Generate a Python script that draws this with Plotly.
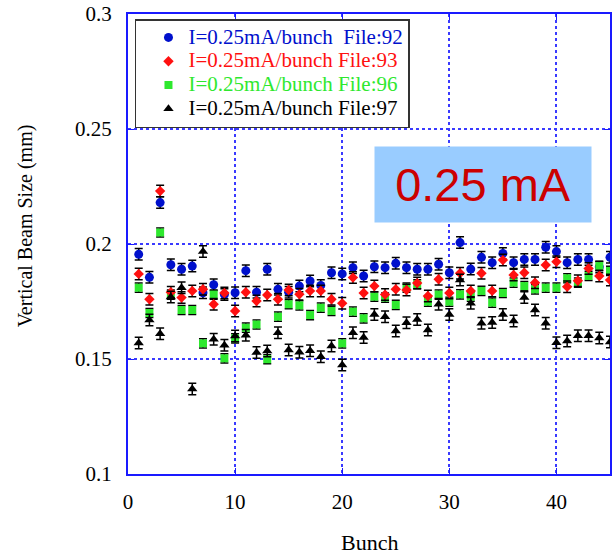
import plotly.graph_objects as go

bunch = list(range(1, 46))

size_92 = [0.1955, 0.1855, 0.218, 0.191, 0.189, 0.1904, 0.1788, 0.1823, 0.178, 0.1788,
           0.1884, 0.179, 0.189, 0.1803, 0.179, 0.1817, 0.1839, 0.182, 0.1875, 0.187,
           0.1897, 0.1861, 0.1901, 0.1897, 0.1916, 0.1897, 0.189, 0.189, 0.1912, 0.1875,
           0.2006, 0.1891, 0.1942, 0.1919, 0.1959, 0.1919, 0.1933, 0.1933, 0.1986, 0.1967,
           0.1919, 0.1933, 0.1933, 0.190, 0.1942]
size_93 = [0.187, 0.176, 0.223, 0.179, 0.1767, 0.1796, 0.1803, 0.1738, 0.1787, 0.1709,
           0.179, 0.1752, 0.1778, 0.176, 0.18, 0.1781, 0.1796, 0.1796, 0.176, 0.1742,
           0.1854, 0.1787, 0.1817, 0.178, 0.1803, 0.180, 0.183, 0.1774, 0.1847, 0.1787,
           0.1873, 0.1796, 0.1873, 0.1796, 0.193, 0.1865, 0.1875, 0.1832, 0.1909, 0.1923,
           0.1814, 0.184, 0.1894, 0.1861, 0.1843]
size_96 = [0.181, 0.170, 0.205, 0.178, 0.1713, 0.1713, 0.1568, 0.178, 0.1503, 0.159,
           0.1636, 0.165, 0.1499, 0.1684, 0.1738, 0.1733, 0.1691, 0.1723, 0.1709, 0.1568,
           0.1706, 0.1677, 0.1771, 0.1767, 0.1735, 0.181, 0.1825, 0.1749, 0.178, 0.1749,
           0.1781, 0.1771, 0.1796, 0.1745, 0.1787, 0.1832, 0.1817, 0.1803, 0.181, 0.181,
           0.1851, 0.1832, 0.1861, 0.1904, 0.1883]
size_97 = [0.157, 0.167, 0.161, 0.177, 0.181, 0.137, 0.1967, 0.1586, 0.156, 0.160,
           0.1603, 0.1528, 0.1535, 0.1614, 0.1539, 0.1529, 0.1536, 0.151, 0.1557, 0.1474,
           0.1614, 0.1593, 0.1694, 0.1684, 0.1622, 0.1658, 0.1672, 0.1626, 0.1738, 0.1694,
           0.1843, 0.1742, 0.1655, 0.1659, 0.1694, 0.1665, 0.1767, 0.1713, 0.1655, 0.1571,
           0.1578, 0.1601, 0.1601, 0.1591, 0.1574]

err_92 = 0.0025
err_93 = 0.0025
err_96 = 0.002
err_97 = 0.0025

x_ticks = [0, 10, 20, 30, 40]
y_ticks = [0.1, 0.15, 0.2, 0.25, 0.3]
y_tick_text = ["0.1", "0.15", "0.2", "0.25", "0.3"]

SERIF = "Liberation Serif, Times New Roman, serif"
AXIS_BLUE = "#1a1aff"
GRID_BLUE = "#3a3aff"

series = [
    # (values, error, colour, symbol, size, label, legend rank)
    (size_92, err_92, "#0010cc", "circle", 9, "I=0.25mA/bunch\u00a0 File:92", 1),
    (size_96, err_96, "#2ee82e", "square", 8, "I=0.25mA/bunch File:96", 3),
    (size_93, err_93, "#ff1010", "diamond", 8, "I=0.25mA/bunch File:93", 2),
    (size_97, err_97, "#000000", "triangle-up", 9, "I=0.25mA/bunch File:97", 4),
]

fig = go.Figure()
for vals, err, color, symbol, msize, label, rank in series:
    fig.add_trace(go.Scatter(
        x=bunch, y=vals, mode="markers",
        name=f'<span style="color:{color};font-size:21px">{label}</span>',
        legendrank=rank,
        marker=dict(symbol=symbol, size=msize, color=color, line=dict(width=0)),
        error_y=dict(type="constant", value=err, color="black", thickness=1.5, width=4),
    ))

fig.update_layout(
    width=614, height=554,
    margin=dict(l=128, r=2, t=14, b=80),
    paper_bgcolor="white", plot_bgcolor="white",
    font=dict(family=SERIF, size=21, color="black"),
    showlegend=True,
    legend=dict(
        x=(135 - 128) / 483.7, y=(474 - 19) / 460, xanchor="left", yanchor="top",
        bgcolor="white", bordercolor="#333333", borderwidth=1.5,
        font=dict(family=SERIF, size=16, color="black"),
        indentation=12, tracegroupgap=0,
    ),
    xaxis=dict(
        range=[0, 45], tickvals=x_ticks, ticks="inside", ticklen=6, tickcolor=AXIS_BLUE,
        showline=True, linecolor=AXIS_BLUE, linewidth=2, mirror="ticks",
        showgrid=True, gridcolor=GRID_BLUE, griddash="dot", gridwidth=1.5,
        zeroline=False, ticklabelstandoff=8,
        tickfont=dict(family=SERIF, size=21, color="black"),
    ),
    yaxis=dict(
        range=[0.1, 0.3], tickvals=y_ticks, ticktext=y_tick_text, ticks="inside", ticklen=6,
        tickcolor=AXIS_BLUE,
        showline=True, linecolor=AXIS_BLUE, linewidth=2, mirror="ticks",
        showgrid=True, gridcolor=GRID_BLUE, griddash="dot", gridwidth=1.5,
        zeroline=False, ticklabelstandoff=10,
        tickfont=dict(family=SERIF, size=21, color="black"),
    ),
    annotations=[
        dict(text="Bunch", xref="paper", yref="paper", x=0.5, y=-(542 - 474) / 460,
             xanchor="center", yanchor="middle", showarrow=False,
             font=dict(family=SERIF, size=22, color="black")),
        dict(text="Vertical Beam Size (mm)", xref="paper", yref="paper",
             x=-(128 - 25) / 483.7, y=(474 - 226) / 460, textangle=-90,
             xanchor="center", yanchor="middle", showarrow=False,
             font=dict(family=SERIF, size=20, color="black")),
        dict(text="0.25 mA", xref="paper", yref="paper",
             x=(375 - 128) / 483.7, y=(474 - 146) / 460, xanchor="left", yanchor="top",
             width=214, height=73, bgcolor="#99ccff", showarrow=False, valign="middle",
             font=dict(family="Liberation Sans, Arial, sans-serif", size=47, color="#cc0000")),
    ],
)

fig.write_html("out.html")
